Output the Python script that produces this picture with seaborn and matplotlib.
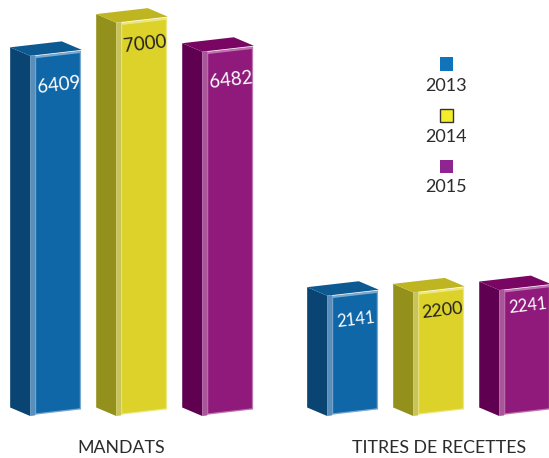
import matplotlib
matplotlib.use("Agg")
import matplotlib.pyplot as plt
from matplotlib.patches import Polygon, Rectangle
from matplotlib.transforms import Affine2D
import pandas as pd
import seaborn as sns

# data
categories = ["MANDATS", "TITRES DE RECETTES"]
years = ["2013", "2014", "2015"]
values_2013 = [6409, 2141]
values_2014 = [7000, 2200]
values_2015 = [6482, 2241]

# colours per year
light = ["#7ba8cf", "#ebe67f", "#bd74ae"]
mid = ["#5a8fbb", "#c9c45a", "#a8559a"]
front = ["#1067a8", "#dcd229", "#8f1a7c"]
side = ["#0a4472", "#94901c", "#5f0050"]
top = ["#0d5a92", "#bfb521", "#7a0664"]
swatch = ["#0f74ba", "#f5ec2a", "#8f2590"]
text_col = ["white", "#222222", "white"]

# how far the number sits below the top of each bar, px, and its size
label_drop = [[32, 27], [24, 21], [31, 19]]
label_size = [[13.5, 12], [13.5, 13], [13.5, 12]]

sns.set_style("white")
plt.rcParams["font.family"] = ["Lato", "DejaVu Sans"]

df = pd.DataFrame({
    "type": categories * 3,
    "year": [y for y in years for _ in categories],
    "value": values_2013 + values_2014 + values_2015,
})

W, H = 549, 458
BASE = 42       # baseline of the bars above the bottom edge, px
PX_PER_UNIT = 0.0562
GROUP_PX = 297

fig = plt.figure(figsize=(W / 100, H / 100), dpi=100)
ax = fig.add_axes([0, BASE / H, 1, 1 - BASE / H])

sns.barplot(data=df, x="type", y="value", hue="year", order=categories, hue_order=years,
            palette=light, saturation=1, width=0.869, gap=0.4, legend=False, ax=ax)

x_left = -142 / GROUP_PX
ax.set_xlim(x_left, x_left + W / GROUP_PX)
ax.set_ylim(0, (H - BASE) / PX_PER_UNIT)
ax.set_xticks([(121 - 142) / GROUP_PX, 1], categories)
ax.set_yticks([])
ax.set_xlabel("")
ax.set_ylabel("")
ax.tick_params(axis="x", length=0, pad=17.5, labelsize=12.8, labelcolor="#2b2b2b")
sns.despine(ax=ax, left=True, bottom=True)

# 3d look: front shear + side and top faces, all worked out from the seaborn bars
RISE_W = 6 / 52
DEPTH = (-20, 8.5)

for i, cont in enumerate(ax.containers):
    for j, bar in enumerate(cont.patches):
        x0, y0 = ax.transData.transform((bar.get_x(), 0))
        x1, y1 = ax.transData.transform((bar.get_x() + bar.get_width(), bar.get_height()))
        rise = (x1 - x0) * RISE_W
        shear = Affine2D.from_values(1, RISE_W, 0, 1, 0, -RISE_W * x0)
        bar.set_transform(ax.transData + shear)
        bar.set_clip_on(False)

        fl_b, fl_t = (x0, y0), (x0, y1)
        fr_b, fr_t = (x1, y0 + rise), (x1, y1 + rise)
        bl_b = (x0 + DEPTH[0], y0 + DEPTH[1])
        bl_t = (x0 + DEPTH[0], y1 + DEPTH[1])
        br_t = (x1 + DEPTH[0], y1 + rise + DEPTH[1])

        ax.add_patch(Polygon([bl_b, fl_b, fl_t, bl_t], fc=side[i], ec="none",
                             transform=None, clip_on=False))
        ax.add_patch(Polygon([bl_t, fl_t, fr_t, br_t], fc=top[i], ec="none",
                             transform=None, clip_on=False))

        # left bevel strip
        sw = 5
        ax.add_patch(Polygon([fl_b, (x0 + sw, y0 + sw * RISE_W), (x0 + sw, y1 + sw * RISE_W), fl_t],
                             fc=mid[i], ec="none", transform=None, clip_on=False))

        # inner panel of the front face, leaves the light bevel showing
        xa, xb = x0 + 6, x1 - 2
        ya, yb = y0 + 2 + 6 * RISE_W, y1 - 3 + 6 * RISE_W
        r = (xb - xa) * RISE_W
        ax.add_patch(Polygon([(xa, ya), (xb, ya + r), (xb, yb + r), (xa, yb)], fc=front[i],
                             ec="none", transform=None, clip_on=False))

        # value, tilted with the face
        cx = (x0 + x1) / 2 + 3
        cy = y1 + rise / 2 - label_drop[i][j]
        ax.text(cx, cy, f"{bar.get_height():.0f}", transform=None, rotation=6.5,
                rotation_mode="anchor", ha="center", va="center", fontsize=label_size[i][j],
                color=text_col[i], zorder=6)

# legend: swatch above the year
for i, year in enumerate(years):
    yc = 1 - (64 + i * 51) / H
    s = 13
    fig.add_artist(Rectangle((446 / W - s / 2 / W, yc - s / 2 / H), s / W, s / H,
                             fc=swatch[i], ec="#333333" if i == 1 else "none",
                             lw=1, transform=fig.transFigure))
    fig.text(446 / W, 1 - (86 + i * 50.5) / H, year, ha="center", va="center",
             fontsize=13, color="#2b2b2b")

fig.savefig("out.png", dpi=100)
